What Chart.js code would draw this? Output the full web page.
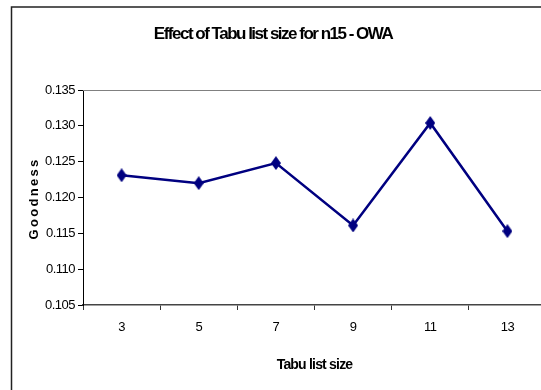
<!DOCTYPE html>
<html>
<head>
<meta charset="utf-8">
<script src="https://cdn.jsdelivr.net/npm/chart.js@4"></script>
<style>
  html, body { margin: 0; padding: 0; background: #fff; overflow: hidden; width: 541px; height: 390px; }
  #c { position: absolute; left: 0; top: 0; }
</style>
</head>
<body>
<canvas id="c" width="560" height="400"></canvas>
<script>
// Tabu list sizes tested and the resulting goodness
const tabuSizes = ['3', '5', '7', '9', '11', '13'];
const goodness = [0.1231, 0.1220, 0.1248, 0.1161, 0.1304, 0.1153];

// Value axis range
const yMin = 0.105;
const yMax = 0.135;
const yStep = 0.005;

const chartTitle = 'Effect of Tabu list size for n15 - OWA';
const xTitle = 'Tabu list size';
const yTitle = 'Goodness';

const navy = '#000080';
const sans = '"Liberation Sans", Arial, sans-serif';

// Diamond marker, a little taller than wide
function diamond(w, h) {
  const cv = document.createElement('canvas');
  cv.width = w; cv.height = h;
  const g = cv.getContext('2d');
  g.fillStyle = navy;
  g.beginPath();
  g.moveTo(w / 2, 0);
  g.lineTo(w, h / 2);
  g.lineTo(w / 2, h);
  g.lineTo(0, h / 2);
  g.closePath();
  g.fill();
  return cv;
}

// Run a draw method with tighter (or looser) letter spacing
function withSpacing(obj, method, spacing) {
  if (!obj || obj['_sp_' + method]) return;
  const orig = obj[method].bind(obj);
  obj[method] = function (...args) {
    const ctx = this.ctx;
    ctx.save();
    if ('letterSpacing' in ctx) ctx.letterSpacing = spacing;
    orig(...args);
    ctx.restore();
  };
  obj['_sp_' + method] = true;
}

// Outer frame, plot-area top edge, condensed text and the spaced value-axis title
const decorations = {
  id: 'decorations',
  beforeDraw(chart) {
    const { ctx } = chart;
    withSpacing(chart.titleBlock, 'draw', '-1.5px');
    withSpacing(chart.scales.x, 'drawTitle', '-0.8px');
    withSpacing(chart.scales.x, 'drawLabels', '-0.5px');
    withSpacing(chart.scales.y, 'drawLabels', '-0.5px');
    ctx.save();
    ctx.fillStyle = '#fff';
    ctx.fillRect(0, 0, chart.width, chart.height);
    ctx.strokeStyle = '#222';
    ctx.lineWidth = 1.5;
    ctx.strokeRect(11.5, 7, chart.width, chart.height);
    ctx.restore();
  },
  beforeDatasetsDraw(chart) {
    const { ctx, chartArea: a } = chart;
    ctx.save();
    ctx.strokeStyle = '#808080';
    ctx.lineWidth = 1;
    ctx.beginPath();
    ctx.moveTo(a.left, a.top + 0.5);
    ctx.lineTo(a.right, a.top + 0.5);
    ctx.stroke();
    ctx.restore();
  },
  afterDraw(chart) {
    const { ctx, chartArea: a } = chart;
    ctx.save();
    ctx.translate(34, (a.top + a.bottom) / 2 + 1);
    ctx.rotate(-Math.PI / 2);
    ctx.font = 'bold 13px ' + sans;
    ctx.fillStyle = '#000';
    if ('letterSpacing' in ctx) ctx.letterSpacing = '2.3px';
    ctx.textAlign = 'center';
    ctx.textBaseline = 'middle';
    ctx.fillText(yTitle, 0, 0);
    ctx.restore();
  }
};

new Chart(document.getElementById('c'), {
  type: 'line',
  data: {
    labels: tabuSizes,
    datasets: [{
      label: yTitle,
      data: goodness,
      borderColor: navy,
      backgroundColor: navy,
      borderWidth: 2.5,
      tension: 0,
      pointStyle: diamond(10, 14),
      pointRadius: 6,
      pointHoverRadius: 6
    }]
  },
  options: {
    responsive: false,
    animation: false,
    layout: { padding: { left: 0, right: 14, top: 0, bottom: 0 } },
    plugins: {
      legend: { display: false },
      tooltip: { enabled: false },
      title: {
        display: true,
        text: chartTitle,
        color: '#000',
        font: { family: sans, size: 17, weight: 'bold' },
        padding: { top: 24.5, bottom: 45.1 }
      }
    },
    scales: {
      x: {
        type: 'category',
        offset: true,
        grid: { offset: true, drawOnChartArea: false, drawTicks: true, tickLength: 5, color: '#333' },
        border: { color: '#444', width: 1.5 },
        ticks: { color: '#000', padding: 10, font: { family: sans, size: 13 } },
        title: {
          display: true,
          text: xTitle,
          color: '#000',
          font: { family: sans, size: 14, weight: 'bold' },
          padding: { top: 0, bottom: 26.5 }
        },
        afterFit(s) { s.height = 95; }
      },
      y: {
        min: yMin,
        max: yMax,
        grid: { drawOnChartArea: false, drawTicks: true, tickLength: 5, color: '#000' },
        border: { color: '#000', width: 1 },
        ticks: {
          stepSize: yStep,
          color: '#000',
          padding: 3,
          font: { family: sans, size: 13 },
          callback: v => Number(v).toFixed(3)
        },
        afterFit(s) { s.width = 83; }
      }
    }
  },
  plugins: [decorations]
});
</script>
</body>
</html>
